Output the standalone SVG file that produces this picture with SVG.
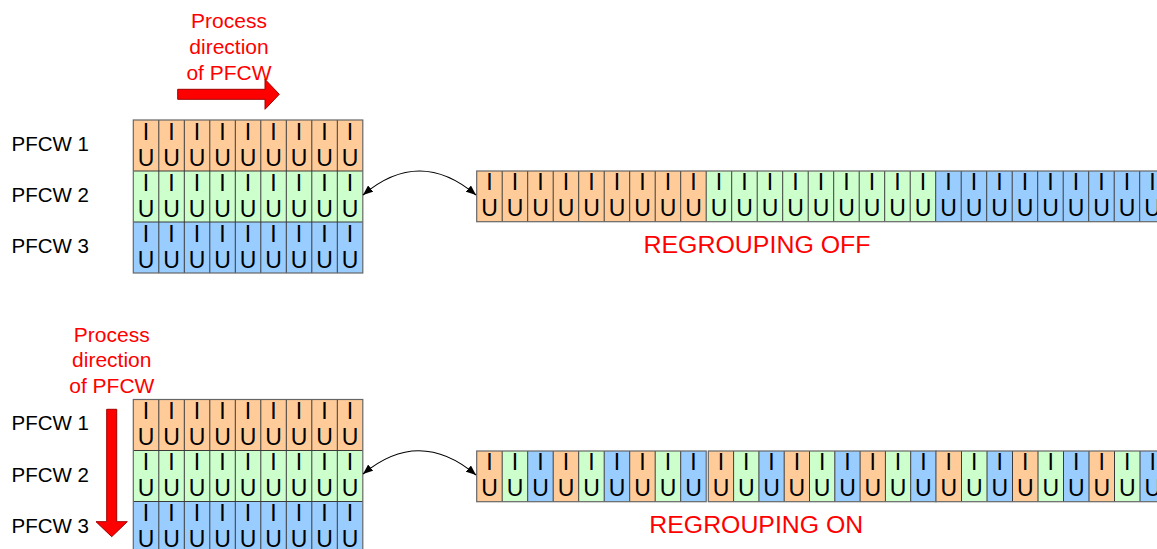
<svg xmlns="http://www.w3.org/2000/svg" width="1157" height="549" viewBox="0 0 1157 549">
<style>
.o{fill:#FFCC99}.g{fill:#CCFFCC}.b{fill:#99CCFF}
.ln{stroke:#3a3a3a;stroke-width:1;fill:none}
.bd{stroke:#666;stroke-width:1.2;fill:none}
.cell{font-family:"Liberation Sans",Arial,sans-serif;font-size:23px;fill:#000;text-anchor:middle}
.lab{font-family:"Liberation Sans",Arial,sans-serif;font-size:20.5px;fill:#000}
.red{font-family:"Liberation Sans",Arial,sans-serif;font-size:21px;fill:#FF0000;text-anchor:middle}
.big{font-family:"Liberation Sans",Arial,sans-serif;font-size:23px;fill:#FF0000;text-anchor:middle}
.arr{fill:#FF0000;stroke:#A00000;stroke-width:1}
.con{stroke:#000;stroke-width:1.2;fill:none}
</style>
<defs>
<marker id="ah" viewBox="0 0 10 8" refX="10" refY="4" markerWidth="10" markerHeight="8" markerUnits="userSpaceOnUse" orient="auto-start-reverse">
<path d="M0,0 L10,4 L0,8 Z" fill="#000"/>
</marker>
</defs>

<!-- ===== TOP SECTION ===== -->
<g id="top-direction">
<text class="red" x="229" y="28.3">Process</text>
<text class="red" x="229" y="54.3">direction</text>
<text class="red" x="229" y="80">of PFCW</text>
<polygon class="arr" points="177.7,89.3 265,89.3 265,79.3 279.3,94.3 265,109.3 265,99.3 177.7,99.3"/>
</g>

<g id="top-labels">
<text class="lab" x="11.5" y="151">PFCW 1</text>
<text class="lab" x="11.5" y="201.7">PFCW 2</text>
<text class="lab" x="11.5" y="252.7">PFCW 3</text>
</g>

<g id="top-block">
<rect class="o" x="133.3" y="120" width="229.5" height="51"/>
<rect class="g" x="133.3" y="171" width="229.5" height="51"/>
<rect class="b" x="133.3" y="222" width="229.5" height="51"/>
<path class="ln" d="M158.8,120V273M184.3,120V273M209.8,120V273M235.3,120V273M260.8,120V273M286.3,120V273M311.8,120V273M337.3,120V273M133.3,171H362.8M133.3,222H362.8"/>
<rect class="bd" x="133.3" y="120" width="229.5" height="153"/>
<text class="cell" x="146.05 171.55 197.05 222.55 248.05 273.55 299.05 324.55 350.05" y="139.5">IIIIIIIII</text>
<text class="cell" x="146.05 171.55 197.05 222.55 248.05 273.55 299.05 324.55 350.05" y="165.5">UUUUUUUUU</text>
<text class="cell" x="146.05 171.55 197.05 222.55 248.05 273.55 299.05 324.55 350.05" y="190.5">IIIIIIIII</text>
<text class="cell" x="146.05 171.55 197.05 222.55 248.05 273.55 299.05 324.55 350.05" y="216.5">UUUUUUUUU</text>
<text class="cell" x="146.05 171.55 197.05 222.55 248.05 273.55 299.05 324.55 350.05" y="241.5">IIIIIIIII</text>
<text class="cell" x="146.05 171.55 197.05 222.55 248.05 273.55 299.05 324.55 350.05" y="267.5">UUUUUUUUU</text>
</g>

<g id="top-strip">
<rect class="o" x="476.7" y="171" width="229.5" height="50.7"/>
<rect class="g" x="706.2" y="171" width="229.5" height="50.7"/>
<rect class="b" x="935.7" y="171" width="229.5" height="50.7"/>
<path class="ln" d="M502.2,171V221.7M527.7,171V221.7M553.2,171V221.7M578.7,171V221.7M604.2,171V221.7M629.7,171V221.7M655.2,171V221.7M680.7,171V221.7M706.2,171V221.7M731.7,171V221.7M757.2,171V221.7M782.7,171V221.7M808.2,171V221.7M833.7,171V221.7M859.2,171V221.7M884.7,171V221.7M910.2,171V221.7M935.7,171V221.7M961.2,171V221.7M986.7,171V221.7M1012.2,171V221.7M1037.7,171V221.7M1063.2,171V221.7M1088.7,171V221.7M1114.2,171V221.7M1139.7,171V221.7"/>
<rect class="bd" x="476.7" y="171" width="688.5" height="50.7"/>
<text class="cell" x="489.45 514.95 540.45 565.95 591.45 616.95 642.45 667.95 693.45 718.95 744.45 769.95 795.45 820.95 846.45 871.95 897.45 922.95 948.45 973.95 999.45 1024.95 1050.45 1075.95 1101.45 1126.95 1152.45" y="190">IIIIIIIIIIIIIIIIIIIIIIIIIII</text>
<text class="cell" x="489.45 514.95 540.45 565.95 591.45 616.95 642.45 667.95 693.45 718.95 744.45 769.95 795.45 820.95 846.45 871.95 897.45 922.95 948.45 973.95 999.45 1024.95 1050.45 1075.95 1101.45 1126.95 1152.45" y="216.3">UUUUUUUUUUUUUUUUUUUUUUUUUUU</text>
</g>

<g id="label-regrouping-off">
<text class="big" x="757" y="253.3" textLength="227" lengthAdjust="spacingAndGlyphs">REGROUPING OFF</text>
</g>

<!-- ===== BOTTOM SECTION ===== -->
<g id="bottom-direction">
<text class="red" x="111.8" y="341.7">Process</text>
<text class="red" x="111.8" y="367.3">direction</text>
<text class="red" x="111.8" y="392.7">of PFCW</text>
<polygon class="arr" points="106.7,409.3 116.7,409.3 116.7,521.7 127.3,521.7 111.7,536.7 96,521.7 106.7,521.7"/>
</g>

<g id="bottom-labels">
<text class="lab" x="11.5" y="430">PFCW 1</text>
<text class="lab" x="11.5" y="481.7">PFCW 2</text>
<text class="lab" x="11.5" y="532.7">PFCW 3</text>
</g>

<g id="bottom-block">
<rect class="o" x="133.3" y="399.5" width="229.5" height="51"/>
<rect class="g" x="133.3" y="450.5" width="229.5" height="51"/>
<rect class="b" x="133.3" y="501.5" width="229.5" height="51"/>
<path class="ln" d="M158.8,399.5V552.5M184.3,399.5V552.5M209.8,399.5V552.5M235.3,399.5V552.5M260.8,399.5V552.5M286.3,399.5V552.5M311.8,399.5V552.5M337.3,399.5V552.5M133.3,450.5H362.8M133.3,501.5H362.8"/>
<rect class="bd" x="133.3" y="399.5" width="229.5" height="153"/>
<text class="cell" x="146.05 171.55 197.05 222.55 248.05 273.55 299.05 324.55 350.05" y="419">IIIIIIIII</text>
<text class="cell" x="146.05 171.55 197.05 222.55 248.05 273.55 299.05 324.55 350.05" y="445">UUUUUUUUU</text>
<text class="cell" x="146.05 171.55 197.05 222.55 248.05 273.55 299.05 324.55 350.05" y="470">IIIIIIIII</text>
<text class="cell" x="146.05 171.55 197.05 222.55 248.05 273.55 299.05 324.55 350.05" y="496">UUUUUUUUU</text>
<text class="cell" x="146.05 171.55 197.05 222.55 248.05 273.55 299.05 324.55 350.05" y="521">IIIIIIIII</text>
<text class="cell" x="146.05 171.55 197.05 222.55 248.05 273.55 299.05 324.55 350.05" y="547">UUUUUUUUU</text>
</g>

<g id="bottom-strip">
<g id="bottom-strip-group1">
<rect class="o" x="476.7" y="451" width="25.5" height="50.7"/>
<rect class="g" x="502.2" y="451" width="25.5" height="50.7"/>
<rect class="b" x="527.7" y="451" width="25.5" height="50.7"/>
<rect class="o" x="553.2" y="451" width="25.5" height="50.7"/>
<rect class="g" x="578.7" y="451" width="25.5" height="50.7"/>
<rect class="b" x="604.2" y="451" width="25.5" height="50.7"/>
<rect class="o" x="629.7" y="451" width="25.5" height="50.7"/>
<rect class="g" x="655.2" y="451" width="25.5" height="50.7"/>
<rect class="b" x="680.7" y="451" width="25.5" height="50.7"/>
<path class="ln" d="M502.2,451V501.7M527.7,451V501.7M553.2,451V501.7M578.7,451V501.7M604.2,451V501.7M629.7,451V501.7M655.2,451V501.7M680.7,451V501.7"/>
<rect class="bd" x="476.7" y="451" width="229.5" height="50.7"/>
</g>
<g id="bottom-strip-group2">
<rect class="o" x="708.3" y="451" width="25.3" height="50.7"/>
<rect class="g" x="733.6" y="451" width="25.3" height="50.7"/>
<rect class="b" x="758.9" y="451" width="25.3" height="50.7"/>
<rect class="o" x="784.2" y="451" width="25.3" height="50.7"/>
<rect class="g" x="809.5" y="451" width="25.3" height="50.7"/>
<rect class="b" x="834.8" y="451" width="25.3" height="50.7"/>
<rect class="o" x="860.1" y="451" width="25.3" height="50.7"/>
<rect class="g" x="885.4" y="451" width="25.3" height="50.7"/>
<rect class="b" x="910.7" y="451" width="25.3" height="50.7"/>
<path class="ln" d="M733.6,451V501.7M758.9,451V501.7M784.2,451V501.7M809.5,451V501.7M834.8,451V501.7M860.1,451V501.7M885.4,451V501.7M910.7,451V501.7"/>
<rect class="bd" x="708.3" y="451" width="227.7" height="50.7"/>
</g>
<g id="bottom-strip-group3">
<rect class="o" x="936" y="451" width="25.5" height="50.7"/>
<rect class="g" x="961.5" y="451" width="25.5" height="50.7"/>
<rect class="b" x="987" y="451" width="25.5" height="50.7"/>
<rect class="o" x="1012.5" y="451" width="25.5" height="50.7"/>
<rect class="g" x="1038" y="451" width="25.5" height="50.7"/>
<rect class="b" x="1063.5" y="451" width="25.5" height="50.7"/>
<rect class="o" x="1089" y="451" width="25.5" height="50.7"/>
<rect class="g" x="1114.5" y="451" width="25.5" height="50.7"/>
<rect class="b" x="1140" y="451" width="25.5" height="50.7"/>
<path class="ln" d="M961.5,451V501.7M987,451V501.7M1012.5,451V501.7M1038,451V501.7M1063.5,451V501.7M1089,451V501.7M1114.5,451V501.7M1140,451V501.7"/>
<rect class="bd" x="936" y="451" width="229.5" height="50.7"/>
</g>
<text class="cell" x="489.45 514.95 540.45 565.95 591.45 616.95 642.45 667.95 693.45 720.95 746.25 771.55 796.85 822.15 847.45 872.75 898.05 923.35 948.75 974.25 999.75 1025.25 1050.75 1076.25 1101.75 1127.25 1152.75" y="470">IIIIIIIIIIIIIIIIIIIIIIIIIII</text>
<text class="cell" x="489.45 514.95 540.45 565.95 591.45 616.95 642.45 667.95 693.45 720.95 746.25 771.55 796.85 822.15 847.45 872.75 898.05 923.35 948.75 974.25 999.75 1025.25 1050.75 1076.25 1101.75 1127.25 1152.75" y="496.3">UUUUUUUUUUUUUUUUUUUUUUUUUUU</text>
</g>

<g id="label-regrouping-on">
<text class="big" x="756.3" y="533.3" textLength="214" lengthAdjust="spacingAndGlyphs">REGROUPING ON</text>
</g>

<g id="connectors">
<path class="con" d="M363,195 Q419.5,147 476,195" marker-start="url(#ah)" marker-end="url(#ah)"/>
<path class="con" d="M363,474 Q419.5,427 476,475" marker-start="url(#ah)" marker-end="url(#ah)"/>
</g>
</svg>
